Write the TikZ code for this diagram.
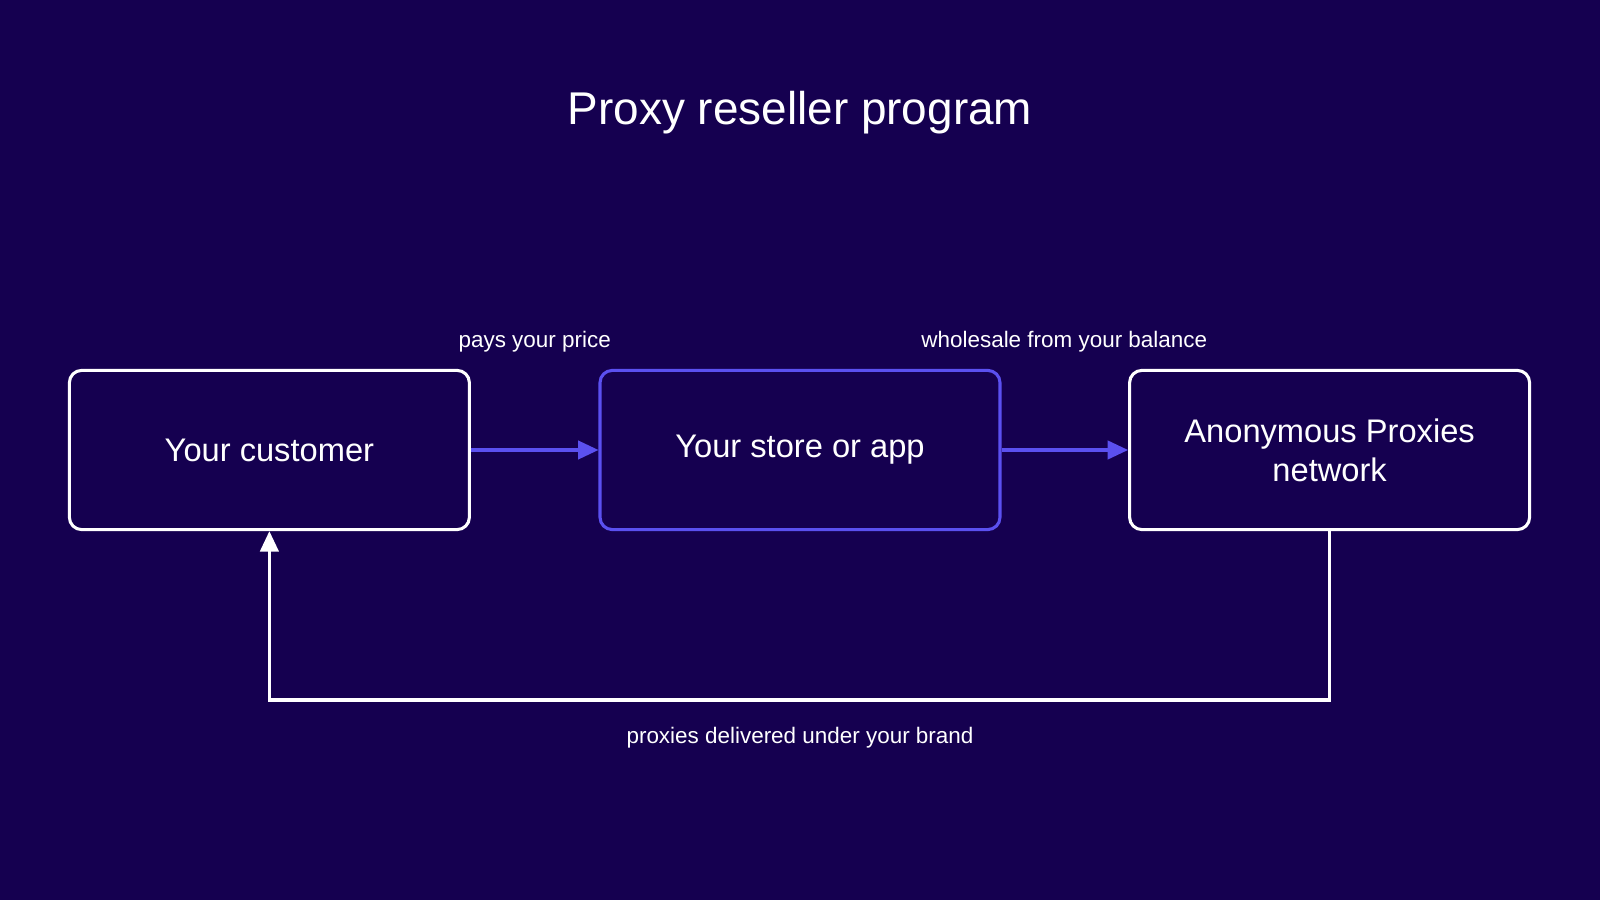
\documentclass[tikz,border=0pt]{standalone}
\usepackage{fontspec}
\setmainfont{Liberation Sans}
\usetikzlibrary{arrows.meta}
\definecolor{bg}{HTML}{150050}
\definecolor{acc}{HTML}{5B50F0}
\begin{document}
\begin{tikzpicture}[x=1pt,y=-1pt,
  box/.style={draw=white,line width=3pt,rounded corners=12pt,minimum width=392pt,minimum height=156pt,text=white,font=\fontsize{32}{38}\selectfont,align=center,inner sep=0pt},
  lbl/.style={text=white,font=\fontsize{22}{26}\selectfont,inner sep=0pt},
  arr/.style={line width=3pt,-{Triangle[length=20pt,width=18pt]}}]
\fill[bg] (0,0) rectangle (1568,882);
\useasboundingbox (0,0) rectangle (1568,882);
\node[text=white,font=\fontsize{45}{54}\selectfont] (title) at (784,110) {Proxy reseller program};
\node[box] (cust) at (264,441) {Your customer};
\node[box,draw=acc] (store) at (784,441) {Your store or app};
\node[box] (net) at (1303,441) {Anonymous Proxies\\network};
\draw[arr,acc] (cust.east) -- (store.west);
\draw[arr,acc] (store.east) -- (net.west);
\coordinate (c1) at (1303,686);
\coordinate (c2) at (264,686);
\draw[arr,white] (net.south) -- (c1) -- (c2) -- (cust.south);
\node[lbl] (l1) at (524,335) {pays your price};
\node[lbl] (l2) at (1043,335) {wholesale from your balance};
\node[lbl] (l3) at (784,723) {proxies delivered under your brand};
\end{tikzpicture}
\end{document}
